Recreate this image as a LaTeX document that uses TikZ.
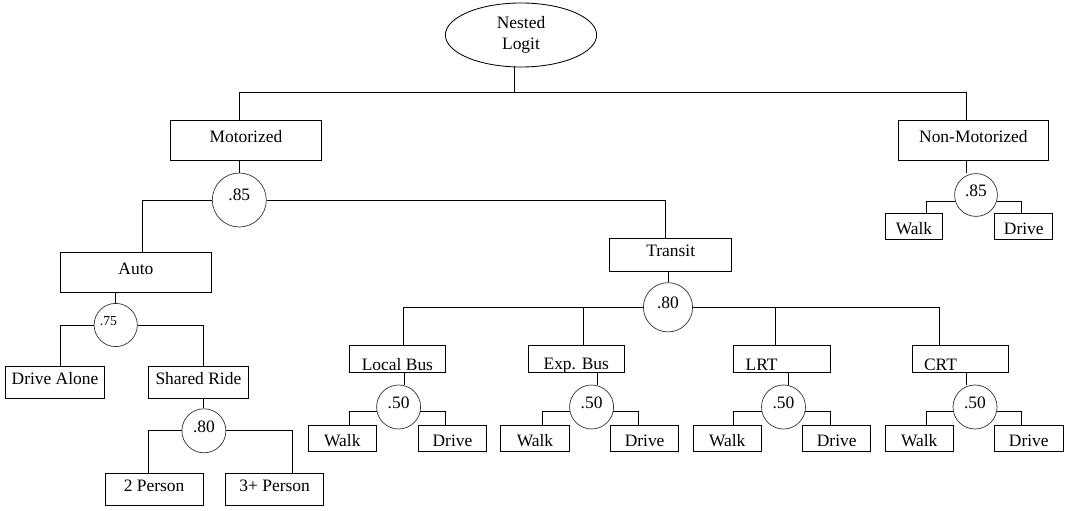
\documentclass[tikz,border=0pt]{standalone}
\usepackage{fontspec}
\setmainfont{Liberation Serif}
\usetikzlibrary{shapes.geometric}

\begin{document}
\begin{tikzpicture}[
        x=0.025cm, y=-0.025cm, line width=0.6pt,
        font=\fontsize{12.4}{14.5}\selectfont,
        box/.style={
            rectangle, draw, inner sep=0pt,
            text height=0.3cm, text depth=0.2cm
        },
        nestbox/.style={box, minimum width=3.77cm, minimum height=1cm},
        carbox/.style={box, minimum width=2.48cm, minimum height=0.81cm},
        modebox/.style={box, minimum width=2.41cm, minimum height=0.665cm,
            text height=0.55cm, text depth=0pt},
        modeleft/.style={modebox, text width=1.81cm, align=left, inner xsep=0.3cm},
        leaf/.style={box, minimum width=1.71cm, minimum height=0.64cm,
            text height=0.4cm, text depth=0pt},
        weight/.style={circle, draw=black!80, line width=0.5pt, inner sep=0pt,
            minimum size=1.1cm, text depth=0.22cm},
    ]
        \useasboundingbox (0,0) rectangle (1072,511);

        % top level
        \node [ellipse, draw, align=center, inner sep=0pt,
               minimum width=3.78cm, minimum height=1.6cm] (logit) at (521,35) {Nested\\Logit};
        \node [nestbox] (motor)    at (245.9,140.3) {Motorized};
        \node [nestbox] (nonmotor) at (973.4,140.2) {Non-Motorized};
        \coordinate (split) at (514.7,92.7);

        \draw (logit.south -| split) -- (split);
        \draw (split) -| (239.3,0 |- motor.north);
        \draw (split) -| (966.6,0 |- nonmotor.north);

        % motorized nest
        \node [weight, minimum size=1.35cm, text depth=0.25cm] (wmotor) at (239.3,200) {.85};
        \node [nestbox] (auto) at (135.9,272.3) {Auto};
        \node [box, minimum width=3.04cm, minimum height=0.815cm] (transit) at (670.7,255) {Transit};

        \draw (motor.south -| wmotor) -- (wmotor.north);
        \draw (wmotor.west) -| (142.2,0 |- auto.north);
        \draw (wmotor.east) -| (665,0 |- transit.north);

        % auto nest
        \node [weight, minimum size=1.08cm, text width=0.79cm, align=left,
               font=\fontsize{9.7}{11}\selectfont] (wauto) at (115.7,325) {.75};
        \node [carbox] (alone)  at (55,382.2)    {Drive Alone};
        \node [carbox] (shared) at (198.4,382.2) {Shared Ride};
        \node [weight] (wshared) at (203.9,430.8) {.80};
        \node [carbox, minimum width=2.455cm] (twop)   at (154.1,489.2) {2 Person};
        \node [carbox, minimum width=2.455cm] (threep) at (274.6,489.2) {3+ Person};

        \draw (auto.south -| wauto) -- (wauto.north);
        \draw (wauto.west) -| (60.3,0 |- alone.north);
        \draw (wauto.east) -| (203.2,0 |- shared.north);
        \draw (shared.south -| wshared) -- (wshared.north);
        \draw (wshared.west) -| (148.8,0 |- twop.north);
        \draw (wshared.east) -| (292.7,0 |- threep.north);

        % transit nest
        \node [weight, minimum size=1.23cm] (wtransit) at (668,307.3) {.80};
        \node [modebox]  (local) at (397.4,359)   {Local Bus};
        \node [modebox]  (exp)   at (576.3,358.7) {Exp. Bus};
        \node [modeleft] (lrt)   at (781.9,359)   {LRT};
        \node [modeleft] (crt)   at (960.3,359)   {CRT};

        \draw (transit.south -| wtransit) -- (wtransit.north);
        \draw (wtransit.west) -| (403.9,0 |- local.north);
        \draw (wtransit.west) -| (583,0 |- exp.north);
        \draw (wtransit.east) -| (775.5,0 |- lrt.north);
        \draw (wtransit.east) -| (939.8,0 |- crt.north);

        % local bus
        \node [weight] (wlocal) at (398.6,407) {.50};
        \node [leaf] (lwalk)  at (342.3,438.5) {Walk};
        \node [leaf] (ldrive) at (452.5,438.5) {Drive};
        \draw (404.6,0 |- local.south) -- (404.6,0 |- wlocal.north);
        \draw (wlocal.192) -| (349.5,0 |- lwalk.north);
        \draw (wlocal.348) -| (445.2,0 |- ldrive.north);

        % express bus
        \node [weight] (wexp) at (591.6,407) {.50};
        \node [leaf] (ewalk)  at (535,438.5)   {Walk};
        \node [leaf] (edrive) at (644.6,438.5) {Drive};
        \draw (597,0 |- exp.south) -- (597,0 |- wexp.north);
        \draw (wexp.192) -| (542.7,0 |- ewalk.north);
        \draw (wexp.348) -| (638,0 |- edrive.north);

        % lrt
        \node [weight] (wlrt) at (783.5,407) {.50};
        \node [leaf] (rwalk)  at (727.2,438.5) {Walk};
        \node [leaf] (rdrive) at (836.7,438.5) {Drive};
        \draw (788.3,0 |- lrt.south) -- (788.3,0 |- wlrt.north);
        \draw (wlrt.192) -| (733.5,0 |- rwalk.north);
        \draw (wlrt.348) -| (830.3,0 |- rdrive.north);

        % crt
        \node [weight] (wcrt) at (975,407) {.50};
        \node [leaf] (cwalk)  at (919.2,438.5)  {Walk};
        \node [leaf] (cdrive) at (1028.8,438.5) {Drive};
        \draw (966.6,0 |- crt.south) -- (966.6,0 |- wcrt.north);
        \draw (wcrt.192) -| (926,0 |- cwalk.north);
        \draw (wcrt.348) -| (1021.4,0 |- cdrive.north);

        % non-motorized nest
        \node [weight, minimum size=1.07cm] (wnon) at (976,195) {.85};
        \node [leaf, minimum width=1.43cm, minimum height=0.65cm] (nwalk)  at (914,226.3)    {Walk};
        \node [leaf, minimum width=1.445cm, minimum height=0.65cm] (ndrive) at (1023.8,226.3) {Drive};
        \draw (966.6,0 |- nonmotor.south) -- (966.6,0 |- wnon.north);
        \draw (wnon.197) -| (926,0 |- nwalk.north);
        \draw (wnon.343) -| (1021.4,0 |- ndrive.north);

\end{tikzpicture}
\end{document}
